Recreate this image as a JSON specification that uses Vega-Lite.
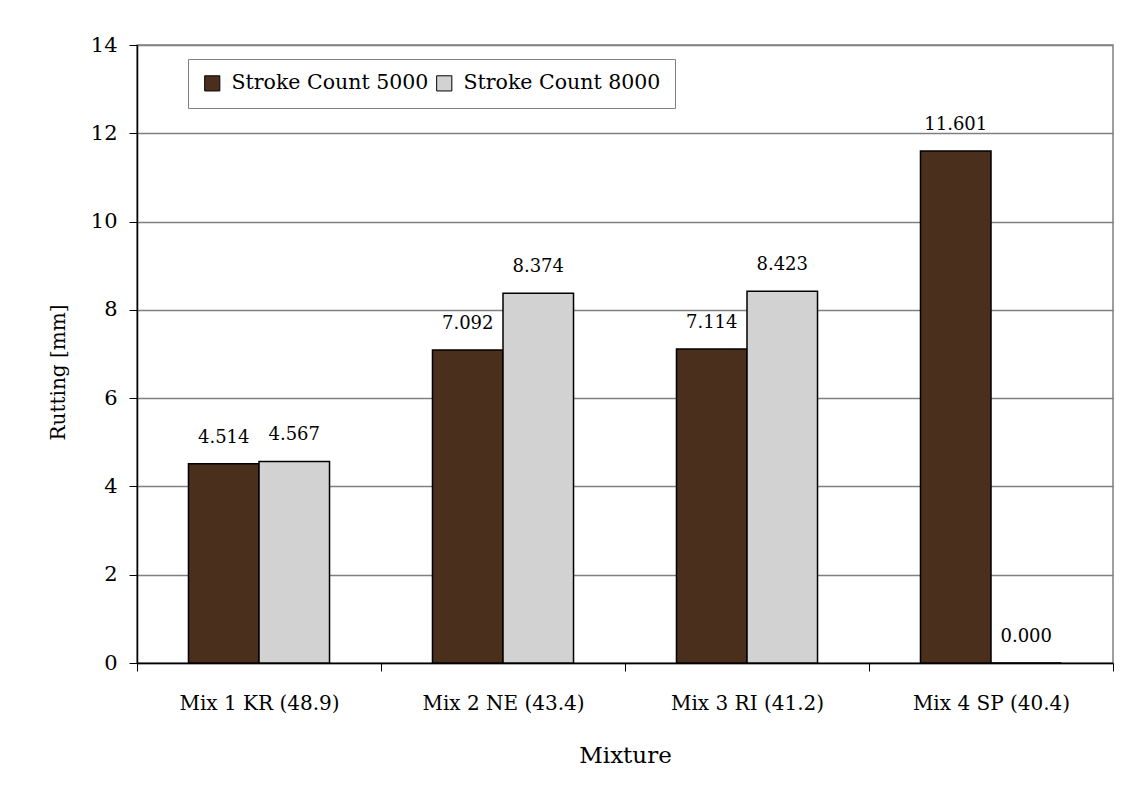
{
  "$schema": "https://vega.github.io/schema/vega-lite/v6.json",
  "width": 976,
  "height": 618,
  "autosize": "none",
  "padding": {"left": 137, "top": 45, "right": 10, "bottom": 136},
  "background": "white",
  "config": {
    "font": "DejaVu Serif",
    "view": {"stroke": "#808080", "strokeWidth": 1.5},
    "axis": {"labelColor": "black", "titleColor": "black", "titleFontWeight": "normal", "labelFont": "DejaVu Serif", "titleFont": "DejaVu Serif"}
  },
  "data": {
    "values": [
      {"mix": "Mix 1 KR (48.9)", "series": "Stroke Count 5000", "value": 4.514},
      {"mix": "Mix 1 KR (48.9)", "series": "Stroke Count 8000", "value": 4.567},
      {"mix": "Mix 2 NE (43.4)", "series": "Stroke Count 5000", "value": 7.092},
      {"mix": "Mix 2 NE (43.4)", "series": "Stroke Count 8000", "value": 8.374},
      {"mix": "Mix 3 RI (41.2)", "series": "Stroke Count 5000", "value": 7.114},
      {"mix": "Mix 3 RI (41.2)", "series": "Stroke Count 8000", "value": 8.423},
      {"mix": "Mix 4 SP (40.4)", "series": "Stroke Count 5000", "value": 11.601},
      {"mix": "Mix 4 SP (40.4)", "series": "Stroke Count 8000", "value": 0.0}
    ]
  },
  "encoding": {
    "x": {
      "field": "mix", "type": "nominal", "sort": null,
      "scale": {"paddingInner": 0, "paddingOuter": 0},
      "axis": {
        "title": "Mixture", "titleFontSize": 23, "titlePadding": 31,
        "labelFontSize": 20, "labelAngle": 0, "labelPadding": 22, "labelLimit": 300,
        "tickBand": "extent", "tickSize": 8, "tickColor": "black",
        "domainColor": "black", "domainWidth": 1.5, "grid": false
      }
    },
    "xOffset": {"field": "series", "type": "nominal", "scale": {"paddingInner": 0, "paddingOuter": 0.73}},
    "y": {
      "field": "value", "type": "quantitative",
      "scale": {"domain": [0, 14], "nice": false},
      "axis": {
        "title": "Rutting [mm]", "titleFontSize": 20, "titlePadding": 22, "titleY": 327,
        "values": [0, 2, 4, 6, 8, 10, 12, 14],
        "labelFontSize": 21, "labelPadding": 12, "tickSize": 8, "tickColor": "black",
        "domainColor": "black", "domainWidth": 1.5,
        "grid": true, "gridColor": "#808080", "gridWidth": 1.5
      }
    }
  },
  "layer": [
    {
      "mark": {"type": "bar", "stroke": "black", "strokeWidth": 1.5},
      "encoding": {
        "color": {
          "field": "series", "type": "nominal",
          "scale": {"domain": ["Stroke Count 5000", "Stroke Count 8000"], "range": ["#4b2f1d", "#d2d2d2"]},
          "legend": {
            "title": null, "orient": "none", "legendX": 51, "legendY": 14,
            "direction": "horizontal", "strokeColor": "#808080", "fillColor": "white",
            "padding": 14, "labelFontSize": 20.5, "labelFont": "DejaVu Serif", "labelColor": "black", "labelLimit": 400,
            "symbolType": "square", "symbolSize": 230, "symbolStrokeColor": "black", "symbolStrokeWidth": 1,
            "columnPadding": 5, "labelOffset": 9
          }
        }
      }
    },
    {
      "mark": {"type": "text", "baseline": "middle", "align": "center", "dy": -26, "fontSize": 18, "font": "DejaVu Serif", "color": "black"},
      "encoding": {
        "text": {"field": "value", "type": "quantitative", "format": ".3f"}
      }
    }
  ]
}
